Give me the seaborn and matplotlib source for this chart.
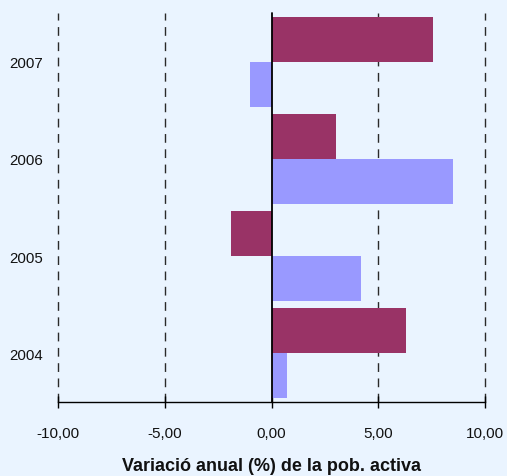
import matplotlib
matplotlib.use("Agg")
import matplotlib.pyplot as plt
import seaborn as sns
import pandas as pd

years = ["2007", "2006", "2005", "2004"]
serie_a = [7.56, 3.02, -1.90, 6.30]   # maroon (upper bar of each pair)
serie_b = [-1.00, 8.50, 4.19, 0.73]   # lavender (lower bar of each pair)
series_names = ["Sèrie A", "Sèrie B"]
xticks = [-10, -5, 0, 5, 10]
xlabel = "Variació anual (%) de la pob. activa"

df = pd.DataFrame({
    "any": years * 2,
    "valor": serie_a + serie_b,
    "serie": [series_names[0]] * len(years) + [series_names[1]] * len(years),
})

bg = "#EAF4FF"
sns.set_theme(style="white")
plt.rcParams["font.family"] = ["Liberation Sans", "DejaVu Sans"]

fig = plt.figure(figsize=(5.07, 4.77), dpi=100, facecolor=bg)
ax = fig.add_axes([58 / 507, 74 / 477, 427 / 507, 389 / 477])
ax.set_facecolor(bg)

sns.barplot(data=df, x="valor", y="any", hue="serie", order=years,
            hue_order=series_names, palette=["#993366", "#9999FF"],
            orient="h", width=0.925, saturation=1, legend=False, ax=ax,
            linewidth=0, edgecolor="none")

ax.set_xlim(-10, 10)
ax.set_ylim(3.5, -0.5)

for v in xticks:
    if v == 0:
        ax.axvline(0, color="black", lw=1.3, zorder=5, clip_on=False)
    else:
        ax.axvline(v, color="#2a2a2a", lw=1.0, ls=(0, (6.3, 4.7)), zorder=0, clip_on=False)

for s in ["top", "right", "left"]:
    ax.spines[s].set_visible(False)
ax.spines["bottom"].set_color("black")
ax.spines["bottom"].set_linewidth(1.0)

ax.set_xticks(xticks)
ax.set_xticklabels([f"{v:.2f}".replace(".", ",") for v in xticks])
ax.tick_params(axis="x", direction="inout", length=8.5, width=1.0, color="black",
               labelsize=11, labelcolor="#111111", pad=13, bottom=True)
ax.tick_params(axis="y", length=0, labelsize=10.8, labelcolor="#111111", pad=10.8)
ax.set_ylabel("")
ax.set_xlabel(xlabel, fontsize=13, fontweight="bold", color="#111111", labelpad=12)

fig.savefig("out.png", dpi=100, facecolor=bg)
